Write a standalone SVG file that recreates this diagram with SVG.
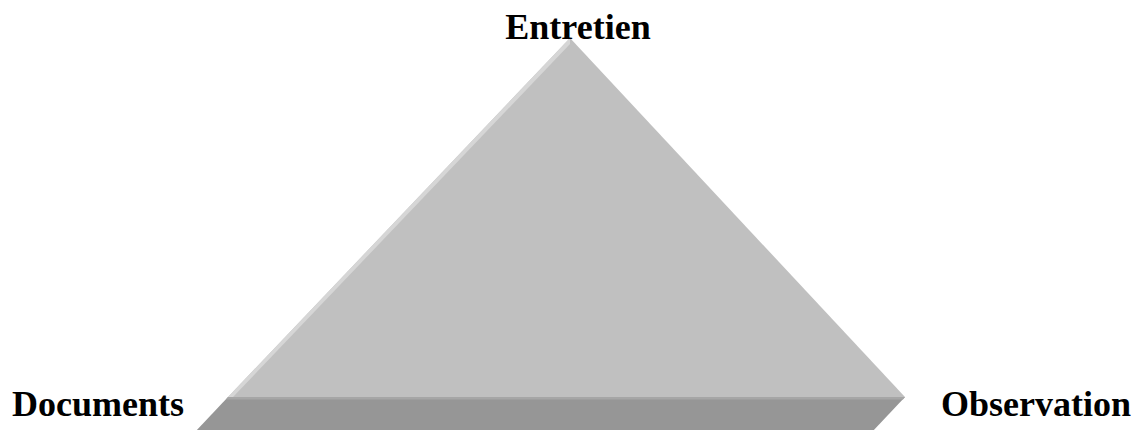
<svg xmlns="http://www.w3.org/2000/svg" width="1138" height="430" viewBox="0 0 1138 430">
<style>
.lbl{font-family:"Liberation Serif","Times New Roman",serif;font-weight:bold;font-size:36px;fill:#000}
</style>
<rect width="1138" height="430" fill="#fff"/>
<g id="pyramid">
<polygon points="570,38 905,397 228,397" fill="#c0c0c0"/>
<polygon points="570,38 228,397 233,397 570,44" fill="#d6d6d6"/>
<polygon points="228,397 905,397 872,432 195,432" fill="#969696"/>
<polygon points="228,397 905,397 903,399.5 226,399.5" fill="#a6a6a6"/>
</g>
<g id="entretien"><text class="lbl" x="578" y="39" text-anchor="middle">Entretien</text></g>
<g id="documents"><text class="lbl" x="12" y="416">Documents</text></g>
<g id="observation"><text class="lbl" x="941" y="416">Observation</text></g>
<g id="connectors"></g>
</svg>
